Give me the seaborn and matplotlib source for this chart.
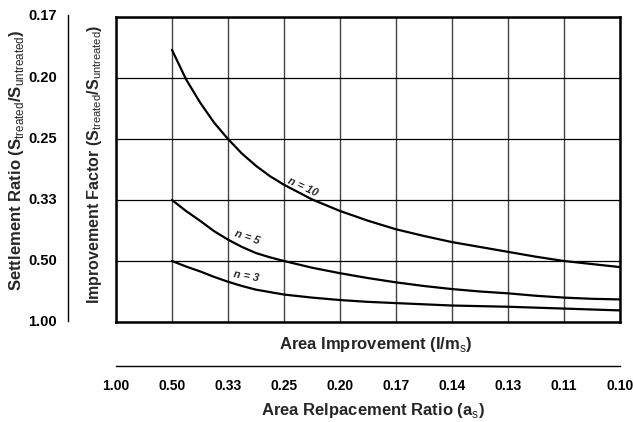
import matplotlib
matplotlib.use("Agg")
import matplotlib.pyplot as plt
import seaborn as sns
import pandas as pd

sns.set_style("white")
plt.rcParams["font.family"] = ["Liberation Sans", "DejaVu Sans"]
plt.rcParams["mathtext.fontset"] = "custom"
plt.rcParams["mathtext.rm"] = "Liberation Sans"
plt.rcParams["mathtext.bf"] = "Liberation Sans:bold"

# Improvement factor (1/settlement ratio) against area improvement A/As
area_x = [2, 2.25, 2.5, 2.75, 3, 3.25, 3.5, 3.75, 4, 4.5, 5, 5.5, 6, 6.5,
          7, 7.5, 8, 8.5, 9, 9.5, 10]
n10_y = [5.46, 4.98, 4.60, 4.27, 4.00, 3.76, 3.56, 3.39, 3.25, 3.01, 2.82,
         2.66, 2.52, 2.41, 2.31, 2.23, 2.15, 2.07, 2.00, 1.95, 1.90]
n5_y = [3.00, 2.82, 2.66, 2.49, 2.35, 2.23, 2.13, 2.06, 2.00, 1.89, 1.80,
        1.72, 1.65, 1.59, 1.54, 1.50, 1.47, 1.43, 1.40, 1.38, 1.37]
n3_y = [2.00, 1.91, 1.83, 1.74, 1.66, 1.59, 1.53, 1.49, 1.45, 1.40, 1.36,
        1.33, 1.31, 1.29, 1.27, 1.26, 1.25, 1.235, 1.22, 1.205, 1.19]

factor_ticks = [1, 2, 3, 4, 5, 6]
settlement_labels = ["1.00", "0.50", "0.33", "0.25", "0.20", "0.17"]
area_ticks = [1, 2, 3, 4, 5, 6, 7, 8, 9, 10]
replacement_labels = ["1.00", "0.50", "0.33", "0.25", "0.20", "0.17", "0.14", "0.13", "0.11", "0.10"]

curve_labels = ["n = 10", "n = 5", "n = 3"]
label_x = [4.34, 3.34, 3.32]
label_y = [3.22, 2.39, 1.75]
label_rot = [-25, -19, -10]

df = pd.concat([
    pd.DataFrame({"area": area_x, "factor": n10_y, "n": "10"}),
    pd.DataFrame({"area": area_x, "factor": n5_y, "n": "5"}),
    pd.DataFrame({"area": area_x, "factor": n3_y, "n": "3"}),
])

W, H = 633, 422
fig = plt.figure(figsize=(W / 100, H / 100), dpi=100)

# main chart box
L, R, T, B = 116, 620, 17, 322
ax = fig.add_axes([L / W, 1 - B / H, (R - L) / W, (B - T) / H])
sns.lineplot(data=df, x="area", y="factor", units="n", estimator=None,
             color="black", linewidth=1.6, ax=ax, legend=False, sort=False)
ax.set_xlim(1, 10)
ax.set_ylim(1, 6)
ax.set_xticks(area_ticks)
ax.set_yticks(factor_ticks)
ax.tick_params(length=0, labelbottom=False, labelleft=False)
ax.grid(True, color="black", linewidth=0.9)
ax.xaxis.grid(True, color="#444444", linewidth=1.0)
for s in ax.spines.values():
    s.set_color("black")
    s.set_linewidth(1.8)
ax.set_xlabel("")
ax.set_ylabel("")

for txt, x, y, r in zip(curve_labels, label_x, label_y, label_rot):
    ax.text(x, y, txt, rotation=r, ha="center", va="center", fontsize=8,
            fontweight="bold", fontstyle="italic", rotation_mode="anchor")

# settlement ratio scale on the left
axl = fig.add_axes([68 / W, 1 - 321 / H, 0.0001, (321 - 15) / H])
axl.set_ylim(1, 6)
axl.set_yticks(factor_ticks)
axl.set_yticklabels(settlement_labels, fontsize=10.5, fontweight="bold")
axl.set_xticks([])
for k in ["top", "right", "bottom"]:
    axl.spines[k].set_visible(False)
axl.spines["left"].set_linewidth(1.0)
axl.spines["left"].set_color("black")
axl.tick_params(axis="y", direction="out", length=5, width=1.0, pad=3, colors="black")
axl.patch.set_alpha(0)

# area replacement ratio scale at the bottom
axb = fig.add_axes([L / W, 1 - 366 / H, (R - L) / W, 0.0001])
axb.set_xlim(1, 10)
axb.set_xticks(area_ticks)
axb.set_xticklabels(replacement_labels, fontsize=10, fontweight="bold")
axb.set_yticks([])
for k in ["top", "right", "left"]:
    axb.spines[k].set_visible(False)
axb.spines["bottom"].set_linewidth(1.0)
axb.spines["bottom"].set_color("black")
axb.tick_params(axis="x", direction="out", length=6, width=1.0, pad=3, colors="black")
axb.patch.set_alpha(0)

fig.text(376 / W, 1 - 345 / H, r"Area Improvement (I/m$_{\rm s}$)",
         ha="center", va="center", fontsize=12, fontweight="bold")
fig.text(373 / W, 1 - 411 / H, r"Area Relpacement Ratio (a$_{\rm s}$)",
         ha="center", va="center", fontsize=12, fontweight="bold")
fig.text(17 / W, 1 - 291 / H, r"Settlement Ratio (S$_{\rm treated}$/S$_{\rm untreated}$)",
         ha="center", va="bottom", rotation=90, fontsize=12, fontweight="bold")
fig.text(95 / W, 1 - 304 / H, r"Improvement Factor (S$_{\rm treated}$/S$_{\rm untreated}$)",
         ha="center", va="bottom", rotation=90, fontsize=11.5, fontweight="bold")

fig.savefig("out.png", dpi=100, facecolor="white")
